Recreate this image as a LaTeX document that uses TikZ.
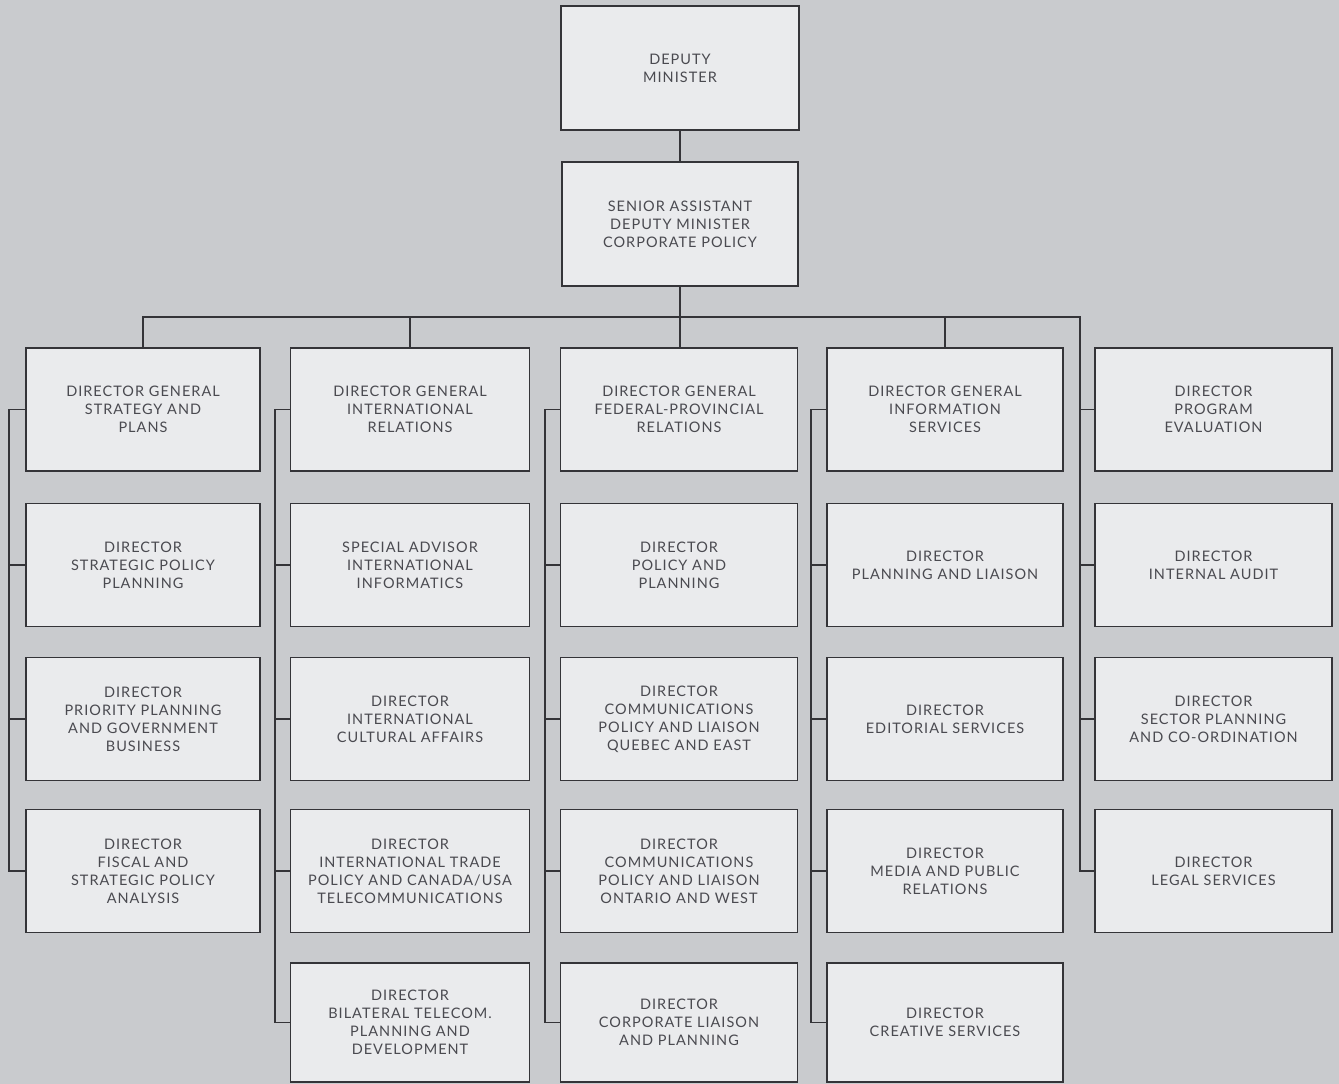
\documentclass[tikz,border=0pt]{standalone}
\usepackage{fontspec}
\setmainfont[LetterSpace=7]{Lato}
\begin{document}
\definecolor{paper}{RGB}{201,203,206}
\definecolor{boxfill}{RGB}{234,235,237}
\definecolor{rule}{RGB}{52,52,56}
\definecolor{ink}{RGB}{74,74,80}
\begin{tikzpicture}[x=1pt,y=-1pt,
  unit/.style={draw=rule,line width=1.8pt,fill=boxfill,text=ink,
    minimum width=236pt,minimum height=123pt,inner sep=0pt,align=center,
    font=\fontsize{14.5}{18}\selectfont},
  link/.style={draw=rule,line width=1.8pt}]
\useasboundingbox (0,0) rectangle (1339,1084);
\fill[paper] (0,0) rectangle (1339,1084);

% top of the hierarchy
\node[unit,minimum width=238pt,minimum height=124pt] (dm) at (680,68) {DEPUTY\\MINISTER};
\node[unit,minimum height=124pt] (sadm) at (680,224) {SENIOR ASSISTANT\\DEPUTY MINISTER\\CORPORATE POLICY};

% column 1
\node[unit,minimum width=234pt] (a1) at (143,409.5) {DIRECTOR GENERAL\\STRATEGY AND\\PLANS};
\node[unit,minimum width=234pt] (a2) at (143,565) {DIRECTOR\\STRATEGIC POLICY\\PLANNING};
\node[unit,minimum width=234pt] (a3) at (143,719) {DIRECTOR\\PRIORITY PLANNING\\AND GOVERNMENT\\BUSINESS};
\node[unit,minimum width=234pt] (a4) at (143,871) {DIRECTOR\\FISCAL AND\\STRATEGIC POLICY\\ANALYSIS};

% column 2
\node[unit,minimum width=239pt] (b1) at (410,409.5) {DIRECTOR GENERAL\\INTERNATIONAL\\RELATIONS};
\node[unit,minimum width=239pt] (b2) at (410,565) {SPECIAL ADVISOR\\INTERNATIONAL\\INFORMATICS};
\node[unit,minimum width=239pt] (b3) at (410,719) {DIRECTOR\\INTERNATIONAL\\CULTURAL AFFAIRS};
\node[unit,minimum width=239pt] (b4) at (410,871) {DIRECTOR\\INTERNATIONAL TRADE\\POLICY AND CANADA/USA\\TELECOMMUNICATIONS};
\node[unit,minimum width=239pt,minimum height=119pt] (b5) at (410,1022.5) {DIRECTOR\\BILATERAL TELECOM.\\PLANNING AND\\DEVELOPMENT};

% column 3
\node[unit,minimum width=237pt] (c1) at (679,409.5) {DIRECTOR GENERAL\\FEDERAL-PROVINCIAL\\RELATIONS};
\node[unit,minimum width=237pt] (c2) at (679,565) {DIRECTOR\\POLICY AND\\PLANNING};
\node[unit,minimum width=237pt] (c3) at (679,719) {DIRECTOR\\COMMUNICATIONS\\POLICY AND LIAISON\\QUEBEC AND EAST};
\node[unit,minimum width=237pt] (c4) at (679,871) {DIRECTOR\\COMMUNICATIONS\\POLICY AND LIAISON\\ONTARIO AND WEST};
\node[unit,minimum width=237pt,minimum height=119pt] (c5) at (679,1022.5) {DIRECTOR\\CORPORATE LIAISON\\AND PLANNING};

% column 4
\node[unit] (d1) at (945,409.5) {DIRECTOR GENERAL\\INFORMATION\\SERVICES};
\node[unit] (d2) at (945,565) {DIRECTOR\\PLANNING AND LIAISON};
\node[unit] (d3) at (945,719) {DIRECTOR\\EDITORIAL SERVICES};
\node[unit] (d4) at (945,871) {DIRECTOR\\MEDIA AND PUBLIC\\RELATIONS};
\node[unit,minimum height=119pt] (d5) at (945,1022.5) {DIRECTOR\\CREATIVE SERVICES};

% column 5
\node[unit,minimum width=237pt] (e1) at (1213.5,409.5) {DIRECTOR\\PROGRAM\\EVALUATION};
\node[unit,minimum width=237pt] (e2) at (1213.5,565) {DIRECTOR\\INTERNAL AUDIT};
\node[unit,minimum width=237pt] (e3) at (1213.5,719) {DIRECTOR\\SECTOR PLANNING\\AND CO-ORDINATION};
\node[unit,minimum width=237pt] (e4) at (1213.5,871) {DIRECTOR\\LEGAL SERVICES};

% trunk and horizontal bus
\coordinate (busR) at (1080,317);
\draw[link] (dm.south) -- (sadm.north);
\draw[link] (sadm.south) -- (sadm.south |- c1.north);
\draw[link] (a1.north) |- (busR) |- (e4.west);
\draw[link] (b1.north) -- (b1.north |- busR);
\draw[link] (d1.north) -- (d1.north |- busR);

% side rails within each column
\draw[link] (a1.west) -- ++(-16,0) |- (a4.west);
\draw[link] (a2.west) -- ++(-16,0);
\draw[link] (a3.west) -- ++(-16,0);

\draw[link] (b1.west) -- ++(-15,0) |- (b5.west);
\draw[link] (b2.west) -- ++(-15,0);
\draw[link] (b3.west) -- ++(-15,0);
\draw[link] (b4.west) -- ++(-15,0);

\draw[link] (c1.west) -- ++(-15,0) |- (c5.west);
\draw[link] (c2.west) -- ++(-15,0);
\draw[link] (c3.west) -- ++(-15,0);
\draw[link] (c4.west) -- ++(-15,0);

\draw[link] (d1.west) -- ++(-15,0) |- (d5.west);
\draw[link] (d2.west) -- ++(-15,0);
\draw[link] (d3.west) -- ++(-15,0);
\draw[link] (d4.west) -- ++(-15,0);

\draw[link] (e1.west) -- (e1.west -| busR);
\draw[link] (e2.west) -- (e2.west -| busR);
\draw[link] (e3.west) -- (e3.west -| busR);
\end{tikzpicture}
\end{document}
